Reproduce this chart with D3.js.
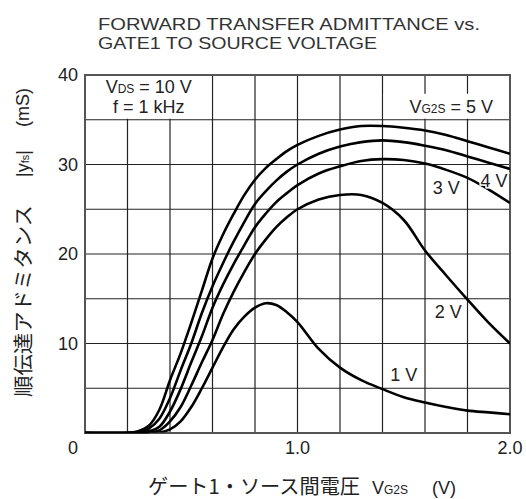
<!DOCTYPE html>
<html lang="ja">
<head>
<meta charset="utf-8">
<title>Forward transfer admittance vs. gate1 to source voltage</title>
<script src="https://d3js.org/d3.v7.min.js"></script>
<style>
  body { margin: 0; background: #fff; }
  svg { display: block; }
  text { font-family: "Liberation Sans", Arial, sans-serif; fill: #222; }
  .jp { font-family: "Noto Sans CJK JP", sans-serif; }
</style>
</head>
<body>
<div id="chart"></div>
<script>
// gate1-source voltage samples (V)
var vg1s = [0, 0.2, 0.25, 0.3, 0.35, 0.4, 0.45, 0.5, 0.55, 0.6, 0.65, 0.7, 0.75, 0.8, 0.85, 0.9, 0.95, 1.0,
            1.1, 1.2, 1.3, 1.4, 1.5, 1.6, 1.7, 1.8, 1.9, 2.0];

// |yfs| (mS) for each VG2S
var yfs5V = [0, 0, 0.2, 0.8, 2.6, 5.9, 8.9, 12.3, 15.9, 19.5, 22.2, 24.5, 26.6, 28.3, 29.6, 30.6, 31.5, 32.2,
             33.2, 33.9, 34.3, 34.3, 34.1, 33.8, 33.3, 32.6, 31.9, 31.2];
var yfs4V = [0, 0, 0.1, 0.5, 1.6, 3.9, 7.0, 10.0, 13.4, 16.4, 19.0, 21.4, 23.6, 25.6, 27.0, 28.2, 29.2, 30.0,
             31.2, 32.0, 32.5, 32.7, 32.5, 32.1, 31.6, 30.9, 30.2, 29.5];
var yfs3V = [0, 0, 0.05, 0.2, 0.7, 2.4, 4.9, 7.9, 10.8, 14.0, 16.6, 18.9, 21.0, 23.0, 24.5, 25.8, 26.8, 27.7,
             29.0, 29.8, 30.4, 30.6, 30.5, 30.1, 29.4, 28.5, 27.2, 25.7];
var yfs2V = [0, 0, 0, 0.05, 0.3, 1.3, 2.9, 5.3, 7.9, 10.4, 13.3, 15.8, 18.0, 20.0, 21.6, 23.0, 24.1, 25.0,
             26.1, 26.6, 26.6, 25.7, 23.8, 20.4, 17.6, 14.9, 12.3, 10.0];
var yfs1V = [0, 0, 0, 0, 0.05, 0.4, 1.3, 2.9, 5.0, 7.3, 9.6, 11.6, 13.0, 14.0, 14.5, 14.3, 13.5, 12.4,
             9.4, 7.3, 5.9, 4.9, 4.0, 3.4, 2.9, 2.5, 2.3, 2.1];

var xTicks = [0, 1.0, 2.0];
var yTicks = [10, 20, 30, 40];

var W = 526, H = 499;
var margin = {left: 85, top: 75, right: 16, bottom: 66};

var svg = d3.select('#chart').append('svg')
  .attr('width', W)
  .attr('height', H);

var x = d3.scaleLinear().domain([0, 2]).range([margin.left, W - margin.right]);
var y = d3.scaleLinear().domain([0, 40]).range([H - margin.bottom, margin.top]);

// title
svg.append('text').attr('x', 98).attr('y', 30).attr('font-size', 16.5).style('fill', '#333')
  .attr('textLength', 382).attr('lengthAdjust', 'spacingAndGlyphs')
  .text('FORWARD TRANSFER ADMITTANCE vs.');
svg.append('text').attr('x', 98).attr('y', 48.5).attr('font-size', 16.5).style('fill', '#333')
  .attr('textLength', 279).attr('lengthAdjust', 'spacingAndGlyphs')
  .text('GATE1 TO SOURCE VOLTAGE');

// grid
var grid = svg.append('g');
grid.selectAll('line.v').data(d3.range(1, 10).map(function(i){ return i * 0.2; }))
  .enter().append('line')
  .attr('x1', function(d){ return x(d); }).attr('x2', function(d){ return x(d); })
  .attr('y1', y(0)).attr('y2', y(40))
  .attr('stroke', '#222').attr('stroke-width', 1.2);
grid.selectAll('line.h').data(d3.range(5, 40, 5))
  .enter().append('line')
  .attr('x1', x(0)).attr('x2', x(2))
  .attr('y1', function(d){ return y(d); }).attr('y2', function(d){ return y(d); })
  .attr('stroke', '#222').attr('stroke-width', 1.2);

// white boxes behind the condition labels
svg.append('rect').attr('x', x(0) + 1).attr('y', y(40) + 1)
  .attr('width', x(0.6) - x(0) - 2).attr('height', y(35) - y(40) - 2).attr('fill', '#fff');
svg.append('rect').attr('x', x(1.4) + 1).attr('y', y(37.9))
  .attr('width', x(2) - x(1.4) - 2).attr('height', y(35) - y(37.9) - 1).attr('fill', '#fff');

// frame
svg.append('rect').attr('x', x(0)).attr('y', y(40))
  .attr('width', x(2) - x(0)).attr('height', y(0) - y(40))
  .attr('fill', 'none').attr('stroke', '#555').attr('stroke-width', 2);

// curves (clipped to the plot so the spline never dips under 0)
svg.append('clipPath').attr('id', 'plotclip').append('rect')
  .attr('x', x(0)).attr('y', y(40))
  .attr('width', x(2) - x(0)).attr('height', y(0) - y(40) - 0.5);

var line = d3.line()
  .x(function(d, i){ return x(vg1s[i]); })
  .y(function(d){ return y(d); })
  .curve(d3.curveCatmullRom.alpha(0.5));

svg.append('g').attr('clip-path', 'url(#plotclip)').selectAll('path')
  .data([yfs5V, yfs4V, yfs3V, yfs2V, yfs1V])
  .enter().append('path')
  .attr('d', line)
  .attr('fill', 'none')
  .attr('stroke', '#000')
  .attr('stroke-width', 2.6);
// baseline where all curves sit at zero
svg.append('line').attr('x1', x(0)).attr('x2', x(0.3)).attr('y1', y(0) - 0.5).attr('y2', y(0) - 0.5)
  .attr('stroke', '#000').attr('stroke-width', 2);

// tick labels
svg.append('g').selectAll('text').data(yTicks)
  .enter().append('text')
  .attr('x', 78).attr('y', function(d){ return y(d) + 6; })
  .attr('text-anchor', 'end').attr('font-size', 18)
  .text(function(d){ return d; });
svg.append('g').selectAll('text').data(xTicks)
  .enter().append('text')
  .attr('x', function(d){ return d === 0 ? x(0) - 12 : x(d); })
  .attr('y', 454)
  .attr('text-anchor', 'middle').attr('font-size', 18)
  .text(function(d){ return d === 0 ? '0' : d3.format('.1f')(d); });

// condition labels
var cond = svg.append('text').attr('x', x(0.3)).attr('y', 93).attr('text-anchor', 'middle').attr('font-size', 18);
cond.append('tspan').text('V');
cond.append('tspan').attr('font-size', 12).text('DS');
cond.append('tspan').text(' = 10 V');
svg.append('text').attr('x', x(0.3)).attr('y', 113).attr('text-anchor', 'middle').attr('font-size', 18)
  .text('f = 1 kHz');

var vg = svg.append('text').attr('x', 493).attr('y', 113).attr('text-anchor', 'end').attr('font-size', 18);
vg.append('tspan').text('V');
vg.append('tspan').attr('font-size', 12).text('G2S');
vg.append('tspan').text(' = 5 V');

// curve labels
var curveLabels = [
  {t: '4 V', x: 1.925, y: 27.5},
  {t: '3 V', x: 1.70, y: 26.7},
  {t: '2 V', x: 1.71, y: 12.85},
  {t: '1 V', x: 1.50, y: 5.8}
];
svg.append('g').selectAll('text').data(curveLabels)
  .enter().append('text')
  .attr('x', function(d){ return x(d.x); })
  .attr('y', function(d){ return y(d.y); })
  .attr('text-anchor', 'middle').attr('font-size', 18)
  .attr('stroke', '#fff').attr('stroke-width', 3).attr('paint-order', 'stroke')
  .text(function(d){ return d.t; });

// x axis title
svg.append('text').attr('class', 'jp').attr('x', 148).attr('y', 494).attr('font-size', 20)
  .attr('textLength', 212).attr('lengthAdjust', 'spacingAndGlyphs')
  .text('ゲート1・ソース間電圧');
var xv = svg.append('text').attr('x', 372).attr('y', 494).attr('font-size', 18);
xv.append('tspan').text('V');
xv.append('tspan').attr('font-size', 12).text('G2S');
svg.append('text').attr('x', 432).attr('y', 494).attr('font-size', 18).text('(V)');

// y axis title (rotated)
var yt = svg.append('g').attr('transform', 'translate(31,0) rotate(-90)');
yt.append('text').attr('class', 'jp').attr('x', -397).attr('y', 0).attr('font-size', 20)
  .attr('textLength', 192).attr('lengthAdjust', 'spacingAndGlyphs')
  .text('順伝達アドミタンス');
var yy = yt.append('text').attr('x', -177).attr('y', -2).attr('font-size', 18);
yy.append('tspan').text('|y');
yy.append('tspan').attr('font-size', 11).text('fs');
yy.append('tspan').text('|');
yt.append('text').attr('x', -127).attr('y', -2).attr('font-size', 18).text('(mS)');
</script>
</body>
</html>
